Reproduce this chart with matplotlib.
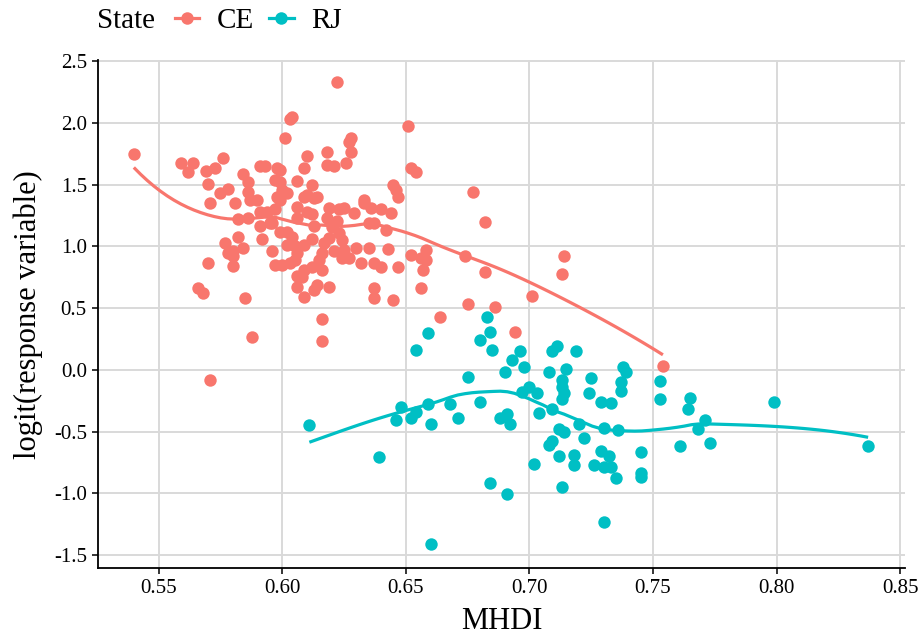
import numpy as np
import matplotlib
matplotlib.use("Agg")
import matplotlib.pyplot as plt
from matplotlib.lines import Line2D

# ---- data -------------------------------------------------------------
ce_mhdi = [
    0.540, 0.559, 0.564, 0.562, 0.569, 0.573, 0.576, 0.570, 0.575, 0.578,
    0.571, 0.581, 0.584, 0.586, 0.586, 0.590, 0.591, 0.593, 0.598, 0.597,
    0.598, 0.591, 0.594, 0.597, 0.582, 0.586, 0.591, 0.595, 0.582, 0.577,
    0.584, 0.580, 0.592, 0.596, 0.599, 0.570, 0.578, 0.580, 0.580, 0.597,
    0.566, 0.568, 0.585, 0.588, 0.571, 0.622, 0.603, 0.604, 0.601, 0.651,
    0.628, 0.627, 0.628, 0.618, 0.610, 0.609, 0.618, 0.621, 0.626, 0.599,
    0.599, 0.606, 0.612, 0.602, 0.610, 0.614, 0.633, 0.652, 0.654, 0.645,
    0.646, 0.647, 0.599, 0.609, 0.613, 0.606, 0.610, 0.606, 0.619, 0.623,
    0.625, 0.629, 0.618, 0.622, 0.633, 0.636, 0.640, 0.644, 0.635, 0.637,
    0.596, 0.613, 0.620, 0.623, 0.642, 0.602, 0.604, 0.612, 0.609, 0.617,
    0.619, 0.624, 0.602, 0.606, 0.605, 0.603, 0.621, 0.624, 0.627, 0.630,
    0.635, 0.643, 0.600, 0.609, 0.608, 0.612, 0.616, 0.615, 0.632, 0.637,
    0.640, 0.647, 0.652, 0.656, 0.658, 0.657, 0.606, 0.609, 0.613, 0.619,
    0.637, 0.637, 0.645, 0.656, 0.616, 0.616, 0.664, 0.677, 0.682, 0.658,
    0.674, 0.682, 0.714, 0.713, 0.701, 0.675, 0.686, 0.694, 0.754, 0.587,
    0.600, 0.605, 0.606, 0.614, 0.612, 0.616, 0.625,
]
ce_logit = [
    1.75, 1.68, 1.68, 1.60, 1.61, 1.64, 1.72, 1.51, 1.43, 1.47,
    1.35, 1.35, 1.59, 1.52, 1.44, 1.38, 1.65, 1.65, 1.64, 1.54,
    1.40, 1.28, 1.28, 1.30, 1.22, 1.23, 1.17, 1.19, 1.08, 1.03,
    0.99, 0.96, 1.06, 0.96, 1.12, 0.87, 0.95, 0.92, 0.84, 0.85,
    0.66, 0.62, 0.58, 0.27, -0.08, 2.33, 2.03, 2.05, 1.88, 1.98,
    1.88, 1.85, 1.77, 1.77, 1.73, 1.64, 1.66, 1.65, 1.68, 1.62,
    1.52, 1.53, 1.50, 1.43, 1.42, 1.40, 1.38, 1.64, 1.60, 1.50,
    1.46, 1.40, 1.38, 1.40, 1.39, 1.32, 1.28, 1.23, 1.31, 1.30,
    1.31, 1.27, 1.23, 1.21, 1.35, 1.31, 1.30, 1.27, 1.19, 1.19,
    1.19, 1.17, 1.16, 1.11, 1.13, 1.12, 1.08, 1.06, 1.01, 1.03,
    1.07, 1.05, 1.01, 0.95, 0.89, 0.87, 0.96, 0.91, 0.91, 0.99,
    0.99, 0.98, 0.85, 0.81, 0.75, 0.83, 0.81, 0.89, 0.87, 0.87,
    0.83, 0.83, 0.93, 0.91, 0.89, 0.81, 0.67, 0.59, 0.65, 0.67,
    0.66, 0.58, 0.57, 0.66, 0.41, 0.23, 0.43, 1.44, 1.20, 0.97,
    0.92, 0.79, 0.92, 0.78, 0.60, 0.53, 0.51, 0.31, 0.03, 1.38,
    1.46, 1.00, 0.76, 0.69, 1.26, 0.95, 0.97,
]

rj_mhdi = [
    0.611, 0.639, 0.646, 0.648, 0.652, 0.654, 0.659, 0.660, 0.654, 0.659,
    0.668, 0.671, 0.675, 0.680, 0.683, 0.684, 0.680, 0.685, 0.688, 0.691,
    0.692, 0.690, 0.693, 0.696, 0.698, 0.700, 0.697, 0.703, 0.704, 0.708,
    0.709, 0.709, 0.708, 0.709, 0.711, 0.719, 0.715, 0.713, 0.713, 0.714,
    0.713, 0.712, 0.718, 0.718, 0.712, 0.714, 0.720, 0.722, 0.725, 0.724,
    0.729, 0.733, 0.738, 0.739, 0.737, 0.737, 0.730, 0.736, 0.729, 0.732,
    0.726, 0.730, 0.733, 0.735, 0.745, 0.745, 0.745, 0.753, 0.753, 0.765,
    0.764, 0.771, 0.768, 0.761, 0.773, 0.799, 0.837, 0.702, 0.684, 0.691,
    0.713, 0.730, 0.660,
]
rj_logit = [
    -0.45, -0.71, -0.41, -0.30, -0.39, -0.34, -0.28, -0.44, 0.16, 0.30,
    -0.28, -0.39, -0.06, -0.26, 0.43, 0.31, 0.24, 0.16, -0.39, -0.36,
    -0.44, -0.02, 0.08, 0.15, 0.02, -0.14, -0.18, -0.19, -0.35, -0.02,
    -0.32, -0.58, -0.61, 0.15, 0.19, 0.15, 0.01, -0.08, -0.14, -0.19,
    -0.24, -0.70, -0.69, -0.77, -0.48, -0.50, -0.44, -0.55, -0.07, -0.19,
    -0.26, -0.27, 0.02, -0.02, -0.10, -0.17, -0.47, -0.49, -0.66, -0.70,
    -0.77, -0.79, -0.79, -0.88, -0.67, -0.84, -0.87, -0.09, -0.24, -0.23,
    -0.32, -0.41, -0.48, -0.62, -0.59, -0.26, -0.62, -0.76, -0.92, -1.01,
    -0.95, -1.23, -1.41,
]

states = ["CE", "RJ"]
state_colors = {"CE": "#F8766D", "RJ": "#00BFC4"}

x_ticks = [0.55, 0.60, 0.65, 0.70, 0.75, 0.80, 0.85]
y_ticks = [-1.5, -1.0, -0.5, 0.0, 0.5, 1.0, 1.5, 2.0, 2.5]


def loess(x, y, grid, span=0.75):
    """Local quadratic regression with tricube weights."""
    x = np.asarray(x, float)
    y = np.asarray(y, float)
    n = len(x)
    q = int(np.floor(n * span))
    fit = []
    for x0 in grid:
        d = np.abs(x - x0)
        h = np.sort(d)[q - 1]
        u = np.clip(d / h, 0, 1)
        w = (1 - u ** 3) ** 3
        X = np.column_stack([np.ones(n), x - x0, (x - x0) ** 2])
        sw = np.sqrt(w)
        beta = np.linalg.lstsq(X * sw[:, None], y * sw, rcond=None)[0]
        fit.append(beta[0])
    return np.array(fit)


# ---- figure -----------------------------------------------------------
plt.rcParams["font.family"] = ["Liberation Serif", "DejaVu Serif"]
plt.rcParams["axes.unicode_minus"] = False

fig = plt.figure(figsize=(9.19, 6.34), dpi=100)
ax = fig.add_axes([0.1066, 0.104, 0.8784, 0.801])

series = {"CE": (ce_mhdi, ce_logit), "RJ": (rj_mhdi, rj_logit)}
for s in states:
    xs, ys = series[s]
    ax.scatter(xs, ys, s=80, color=state_colors[s], linewidths=0, zorder=3)
for s in states:
    xs, ys = series[s]
    grid = np.linspace(min(xs), max(xs), 80)
    ax.plot(grid, loess(xs, ys, grid), color=state_colors[s], lw=2.3,
            zorder=4, solid_capstyle="butt")

ax.set_xlim(0.5255, 0.852)
ax.set_ylim(-1.607, 2.51)
ax.set_xticks(x_ticks)
ax.set_xticklabels([f"{v:.2f}" for v in x_ticks])
ax.set_yticks(y_ticks)
ax.set_yticklabels([f"{v:.1f}" for v in y_ticks])

ax.grid(True, color="#D9D9D9", lw=1.4)
ax.set_axisbelow(True)
for side in ["top", "right"]:
    ax.spines[side].set_visible(False)
for side in ["left", "bottom"]:
    ax.spines[side].set_color("black")
    ax.spines[side].set_linewidth(1.3)
ax.tick_params(axis="both", colors="black", length=4, width=1.1,
               labelsize=15, pad=4)

ax.set_xlabel("MHDI", fontsize=22, labelpad=6)
ax.set_ylabel("logit(response variable)", fontsize=22, labelpad=8)

# legend along the top
fig.text(0.106, 0.967, "State", fontsize=21, va="center", ha="left")
handles = [Line2D([0], [0], color=state_colors[s], lw=2.3, marker="o",
                  markersize=9, markeredgewidth=0) for s in states]
fig.legend(handles, states, loc="center left", bbox_to_anchor=(0.190, 0.967),
           ncol=2, frameon=False, fontsize=21, handlelength=0.85,
           handletextpad=0.6, columnspacing=0.5, borderpad=0, borderaxespad=0)

fig.savefig("out.png", dpi=100)
